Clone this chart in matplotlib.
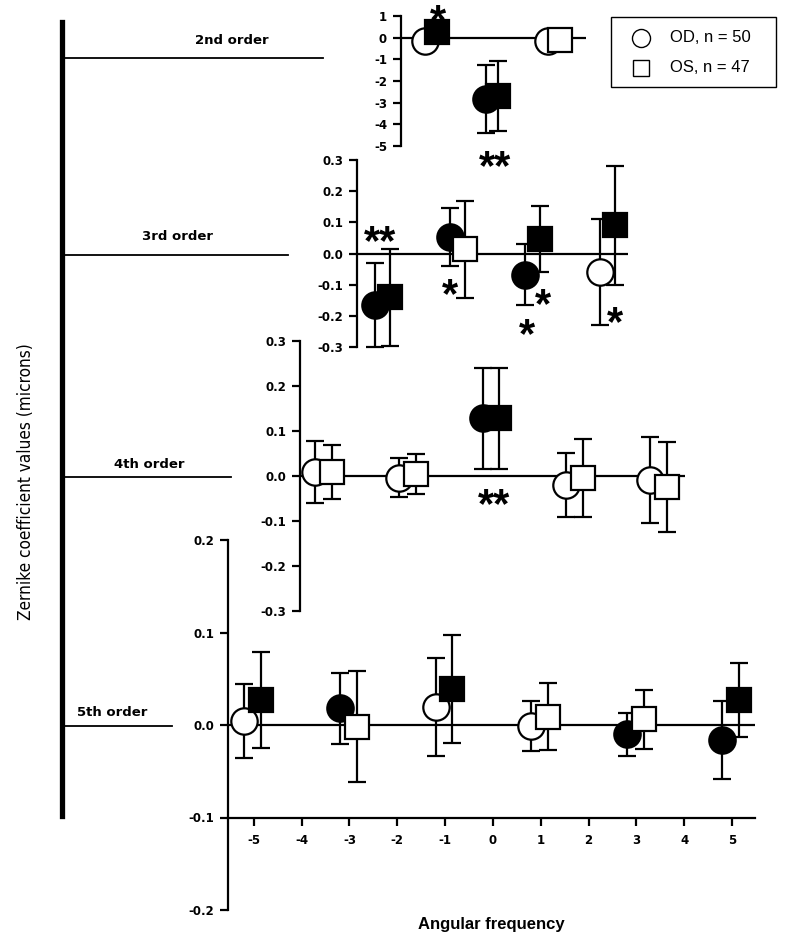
import numpy as np
import matplotlib
matplotlib.use("Agg")
import matplotlib.pyplot as plt
from matplotlib.lines import Line2D
from matplotlib.patches import Rectangle

plt.rcParams['axes.unicode_minus'] = False
plt.rcParams['font.family'] = ['Liberation Sans', 'DejaVu Sans']

# Data: mean and SD per angular frequency, OD (circles) and OS (squares)
freq_2 = [-2, 0, 2]
od_mean_2 = [-0.14, -2.83, -0.14]
od_sd_2 = [0.3, 1.58, 0.3]
od_fill_2 = [False, True, False]
os_mean_2 = [0.24, -2.69, -0.10]
os_sd_2 = [0.3, 1.61, 0.3]
os_fill_2 = [True, True, False]

freq_3 = [-3, -1, 1, 3]
od_mean_3 = [-0.165, 0.052, -0.068, -0.06]
od_sd_3 = [0.135, 0.093, 0.098, 0.17]
od_fill_3 = [True, True, True, False]
os_mean_3 = [-0.141, 0.014, 0.046, 0.09]
os_sd_3 = [0.157, 0.156, 0.106, 0.19]
os_fill_3 = [True, False, True, True]

freq_4 = [-4, -2, 0, 2, 4]
od_mean_4 = [0.009, -0.004, 0.128, -0.02, -0.009]
od_sd_4 = [0.069, 0.043, 0.112, 0.072, 0.095]
od_fill_4 = [False, False, True, False, False]
os_mean_4 = [0.009, 0.004, 0.128, -0.004, -0.024]
os_sd_4 = [0.059, 0.045, 0.113, 0.086, 0.1]
os_fill_4 = [False, False, True, False, False]

freq_5 = [-5, -3, -1, 1, 3, 5]
od_mean_5 = [0.004, 0.018, 0.019, -0.001, -0.01, -0.016]
od_sd_5 = [0.040, 0.038, 0.053, 0.027, 0.023, 0.042]
od_fill_5 = [False, True, False, False, True, True]
os_mean_5 = [0.027, -0.002, 0.039, 0.009, 0.006, 0.027]
os_sd_5 = [0.052, 0.060, 0.058, 0.036, 0.032, 0.040]
os_fill_5 = [True, False, True, False, False, True]

# significance stars: (text, x, y)
stars_2 = [("*", -1.76, 1.3), ("**", 0.1, -5.45)]
stars_3 = [("**", -3.07, 0.075), ("*", -1.2, -0.095), ("*", 1.28, -0.127),
           ("*", 0.85, -0.224), ("*", 3.2, -0.185)]
stars_4 = [("**", 0.07, -0.04)]

order_labels = ["2nd order", "3rd order", "4th order", "5th order"]
legend_labels = ["OD, n = 50", "OS, n = 47"]

W, H = 793, 944
fig = plt.figure(figsize=(W / 100, H / 100), dpi=100)
BOLD = dict(family='DejaVu Sans', fontweight='bold')


def fx(px):
    return px / W


def fy(py):
    return 1 - py / H


def panel(left, right, top, bottom, xlim, ylim):
    ax = fig.add_axes([fx(left), fy(bottom), fx(right - left), (bottom - top) / H])
    ax.set_facecolor('none')
    ax.set_xlim(xlim)
    ax.set_ylim(ylim)
    for s in ['top', 'right', 'bottom']:
        ax.spines[s].set_visible(False)
    ax.spines['left'].set_linewidth(1.6)
    ax.tick_params(axis='y', direction='out', length=6, width=1.6, pad=4)
    ax.tick_params(axis='x', bottom=False, labelbottom=False)
    ax.axhline(0, color='black', lw=1.6, zorder=1)
    return ax


def draw(ax, freq, mean, sd, fill, marker, off, ms):
    for f, m, s, fl in zip(freq, mean, sd, fill):
        ax.errorbar(f + off, m, yerr=s, fmt=marker, ms=ms, mec='black',
                    mfc='black' if fl else 'white', mew=1.6, ecolor='black',
                    elinewidth=1.6, capsize=6.5, capthick=1.6, clip_on=False,
                    zorder=3)


def stars(ax, items, fs=30):
    for t, x, y in items:
        ax.annotate(t, xy=(x, y), xytext=(0, -0.3 * fs), textcoords='offset points',
                    ha='center', va='center', fontsize=fs, fontweight='bold',
                    family='Liberation Sans', annotation_clip=False)


def fmt_ticks(ax, ticks, fmt):
    ax.set_yticks(ticks)
    ax.set_yticklabels([fmt % t for t in ticks], fontsize=8.5, **BOLD)


# 2nd order
ax2 = panel(401, 586, 16, 146, (-2.96, 3.06), (-5, 1))
fmt_ticks(ax2, [1, 0, -1, -2, -3, -4, -5], '%d')
draw(ax2, freq_2, od_mean_2, od_sd_2, od_fill_2, 'o', -0.18, 19)
draw(ax2, freq_2, os_mean_2, os_sd_2, os_fill_2, 's', 0.2, 17.5)
stars(ax2, stars_2)

# 3rd order
ax3 = panel(357, 628, 160, 347, (-3.68, 3.55), (-0.3, 0.3))
fmt_ticks(ax3, [0.3, 0.2, 0.1, 0.0, -0.1, -0.2, -0.3], '%.1f')
draw(ax3, freq_3, od_mean_3, od_sd_3, od_fill_3, 'o', -0.2, 19)
draw(ax3, freq_3, os_mean_3, os_sd_3, os_fill_3, 's', 0.2, 17.5)
stars(ax3, stars_3)

# 4th order
ax4 = panel(300, 685, 341, 611, (-4.57, 4.64), (-0.3, 0.3))
fmt_ticks(ax4, [0.3, 0.2, 0.1, 0.0, -0.1, -0.2, -0.3], '%.1f')
draw(ax4, freq_4, od_mean_4, od_sd_4, od_fill_4, 'o', -0.2, 19)
draw(ax4, freq_4, os_mean_4, os_sd_4, os_fill_4, 's', 0.2, 17.5)
stars(ax4, stars_4)

# 5th order
ax5 = panel(228, 755, 540, 910, (-5.54, 5.48), (-0.2, 0.2))
fmt_ticks(ax5, [0.2, 0.1, 0.0, -0.1, -0.2], '%.1f')
ax5.spines['bottom'].set_visible(True)
ax5.spines['bottom'].set_position(('data', -0.1))
ax5.spines['bottom'].set_linewidth(1.6)
ax5.set_xticks(range(-5, 6))
ax5.set_xticklabels([str(v) for v in range(-5, 6)], fontsize=8.5, **BOLD)
ax5.tick_params(axis='x', bottom=True, labelbottom=True, direction='out',
                length=6, width=1.6, pad=6)
draw(ax5, freq_5, od_mean_5, od_sd_5, od_fill_5, 'o', -0.2, 19)
draw(ax5, freq_5, os_mean_5, os_sd_5, os_fill_5, 's', 0.15, 17.5)

# left bracket with order labels
fig.add_artist(Line2D([fx(62), fx(62)], [fy(22), fy(816)], color='black', lw=3.8))
line_y = [58, 255, 477, 726]
line_end = [323, 288, 231, 172]
label_x = [232, 178, 149, 112]
label_y = [41, 237, 464, 713]
for lab, ly, le, lx, ty in zip(order_labels, line_y, line_end, label_x, label_y):
    fig.add_artist(Line2D([fx(62), fx(le)], [fy(ly), fy(ly)], color='black', lw=1.3))
    fig.text(fx(lx), fy(ty), lab, ha='center', va='center', fontsize=9.5, **BOLD)

fig.text(fx(26), fy(482), 'Zernike coefficient values (microns)', rotation=90,
         ha='center', va='center', fontsize=12.3, stretch='condensed',
         family=['Liberation Sans Narrow', 'DejaVu Sans'])
fig.text(fx(491), fy(925), 'Angular frequency', ha='center', va='center',
         fontsize=12, fontweight='bold')

# legend box drawn by hand
fig.add_artist(Rectangle((fx(611), fy(87)), fx(776 - 611), (87 - 17) / H,
                         transform=fig.transFigure, fill=False, ec='black', lw=1.0))
for lab, mk, ms, ry in zip(legend_labels, ['o', 's'], [13, 11.5], [38, 68]):
    fig.add_artist(Line2D([fx(641)], [fy(ry)], marker=mk, ls='none', ms=ms,
                          mfc='white', mec='black', mew=1.0))
    fig.text(fx(670), fy(ry), lab, ha='left', va='center', fontsize=12)

fig.savefig('out.png', dpi=100)
